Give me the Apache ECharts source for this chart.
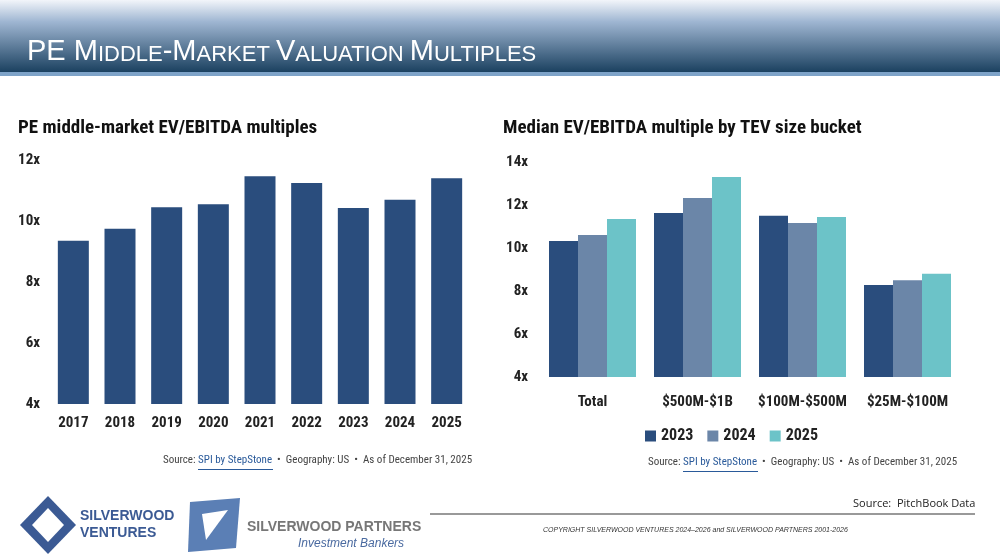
<!DOCTYPE html><html><head><meta charset="utf-8"><script src="https://cdn.jsdelivr.net/npm/echarts@6/dist/echarts.min.js"></script>
<style>body{margin:0}#c{width:1000px;height:560px}</style></head><body><div id="c"></div><script>
const years=['2017','2018','2019','2020','2021','2022','2023','2024','2025'];
const yearVals=[9.35,9.75,10.45,10.55,11.47,11.25,10.43,10.7,11.4];
const buckets=['Total','$500M-$1B','$100M-$500M','$25M-$100M'];
const s2023=[10.33,11.63,11.5,8.28];
const s2024=[10.6,12.33,11.16,8.5];
const s2025=[11.35,13.3,11.44,8.8];
const F='Roboto Condensed, Roboto, sans-serif';
const ch=echarts.init(document.getElementById('c'));
const lab={color:'#222',fontSize:15,fontWeight:'bold',fontFamily:F};
const HF='Liberation Sans Narrow, Arial Narrow, sans-serif';
ch.setOption({
backgroundColor:'#fff',
graphic:[
{type:'rect',shape:{x:0,y:0,width:1000,height:72},style:{fill:new echarts.graphic.LinearGradient(0,0,0,1,[{offset:0,color:'#f2f5fa'},{offset:0.3,color:'#9fb6d2'},{offset:1,color:'#1b4160'}])}},
{type:'rect',shape:{x:0,y:72,width:1000,height:4},style:{fill:'#7ea3c8'}},
{type:'text',left:27,top:37,style:{rich:{B:{fontSize:29,fill:'#fff',fontFamily:HF,verticalAlign:'bottom'},s:{fontSize:22,fill:'#fff',fontFamily:HF,verticalAlign:'bottom'}},text:'{B|PE M}{s|IDDLE}{B|-M}{s|ARKET }{B|V}{s|ALUATION }{B|M}{s|ULTIPLES}'}},
{type:'text',left:18,top:119,style:{text:'PE middle-market EV/EBITDA multiples',font:'bold 19px '+F,fill:'#111'}},
{type:'text',left:503,top:119,style:{text:'Median EV/EBITDA multiple by TEV size bucket',font:'bold 19px '+F,fill:'#111'}},
{type:'text',left:163,top:455,style:{rich:{a:{fontSize:11,fill:'#444',fontFamily:F},b:{fontSize:11,fill:'#2a5a9a',fontFamily:F}},text:'{a|Source: }{b|SPI by StepStone}{a|  •  Geography: US  •  As of December 31, 2025}'}},
{type:'rect',shape:{x:198,y:469,width:75,height:1},style:{fill:'#2a5a9a'}},
{type:'text',left:648,top:457,style:{rich:{a:{fontSize:11,fill:'#444',fontFamily:F},b:{fontSize:11,fill:'#2a5a9a',fontFamily:F}},text:'{a|Source: }{b|SPI by StepStone}{a|  •  Geography: US  •  As of December 31, 2025}'}},
{type:'rect',shape:{x:683,y:471,width:75,height:1},style:{fill:'#2a5a9a'}},
{type:'text',left:853,top:498,style:{text:'Source:  PitchBook Data',font:'11px Open Sans, sans-serif',fill:'#222'}},
{type:'rect',shape:{x:430,y:513,width:545,height:2},style:{fill:'#999'}},
{type:'text',left:543,top:527,style:{text:'COPYRIGHT SILVERWOOD VENTURES 2024–2026 and SILVERWOOD PARTNERS 2001-2026',font:'italic 7px sans-serif',fill:'#333'}},
{type:'polygon',shape:{points:[[48,496],[76,525],[48,554],[20,525]]},style:{fill:'#3b5a94'}},
{type:'polygon',shape:{points:[[48,508],[64,525],[48,542],[32,525]]},style:{fill:'#fff'}},
{type:'text',left:80,top:508,style:{text:'SILVERWOOD\nVENTURES',font:'bold 14px sans-serif',fill:'#3b5a94',lineHeight:17}},
{type:'polygon',shape:{points:[[190,502],[240,498],[236,548],[188,552]]},style:{fill:'#5b7fb5'}},
{type:'polygon',shape:{points:[[202,514],[228,510],[206,540]]},style:{fill:'#fff'}},
{type:'text',left:247,top:520,style:{text:'SILVERWOOD PARTNERS',font:'bold 14px sans-serif',fill:'#777'}},
{type:'text',left:298,top:538,style:{text:'Investment Bankers',font:'italic 12px sans-serif',fill:'#4a6aa0'}}
],
legend:{left:640,top:423,itemWidth:11,itemHeight:11,itemGap:14,icon:'rect',textStyle:{fontSize:16,fontWeight:'bold',color:'#222',fontFamily:F},data:['2023','2024','2025']},
grid:[{left:50,right:530,top:160,bottom:156},{left:540,right:40,top:162,bottom:183}],
xAxis:[{gridIndex:0,type:'category',data:years,axisLine:{show:false},axisTick:{show:false},axisLabel:Object.assign({margin:12,interval:0},lab)},
{gridIndex:1,type:'category',data:buckets,axisLine:{show:false},axisTick:{show:false},axisLabel:Object.assign({margin:18,interval:0},lab)}],
yAxis:[{gridIndex:0,min:4,max:12,interval:2,splitLine:{show:false},axisLabel:Object.assign({formatter:v=>v+'x',margin:10},lab)},
{gridIndex:1,min:4,max:14,interval:2,splitLine:{show:false},axisLabel:Object.assign({formatter:v=>v+'x',margin:12},lab)}],
series:[
{type:'bar',xAxisIndex:0,yAxisIndex:0,data:yearVals,barWidth:31,itemStyle:{color:'#2a4d7d'}},
{name:'2023',type:'bar',xAxisIndex:1,yAxisIndex:1,data:s2023,barWidth:29,barGap:0,itemStyle:{color:'#2a4d7d'}},
{name:'2024',type:'bar',xAxisIndex:1,yAxisIndex:1,data:s2024,barWidth:29,barGap:0,itemStyle:{color:'#6b86a8'}},
{name:'2025',type:'bar',xAxisIndex:1,yAxisIndex:1,data:s2025,barWidth:29,barGap:0,itemStyle:{color:'#6cc3c8'}}
]});
</script></body></html>
